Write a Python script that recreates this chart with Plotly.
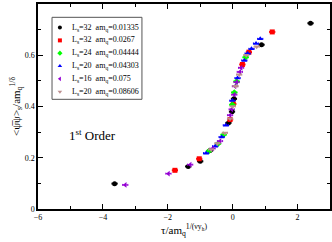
import plotly.graph_objects as go

labels = [
    "L<sub>s</sub>=32\u00a0 am<sub>q</sub>=0.01335",
    "L<sub>s</sub>=32\u00a0 am<sub>q</sub>=0.0267",
    "L<sub>s</sub>=24\u00a0 am<sub>q</sub>=0.04444",
    "L<sub>s</sub>=20\u00a0 am<sub>q</sub>=0.04303",
    "L<sub>s</sub>=16\u00a0 am<sub>q</sub>=0.075",
    "L<sub>s</sub>=20\u00a0 am<sub>q</sub>=0.08606",
]
colors = ["#000000", "#ff0000", "#00ff00", "#0000ff", "#9400d3", "#bc8f8f"]
symbols = ["circle", "square", "diamond", "triangle-up", "triangle-left", "triangle-down"]

x_black = [-3.64, -1.37, -1.00, -0.70, -0.13, -0.02, 0.04, 0.89, 2.40]
y_black = [0.099, 0.166, 0.186, 0.228, 0.336, 0.38, 0.43, 0.641, 0.725]

x_red = [-1.78, -1.03, -0.08, 0.02, 0.30, 0.50, 1.22]
y_red = [0.151, 0.196, 0.349, 0.41, 0.564, 0.612, 0.691]

x_green = [-0.73, -0.45, -0.28, -0.01, 0.05, 0.12, 0.40]
y_green = [0.226, 0.255, 0.29, 0.407, 0.455, 0.498, 0.592]

x_blue = [-0.82, -0.54, -0.34, -0.21, -0.01, 0.15, 0.36, 0.46, 0.58, 0.72, 0.85]
y_blue = [0.218, 0.245, 0.281, 0.327, 0.423, 0.511, 0.580, 0.607, 0.625, 0.646, 0.664]

x_violet = [-3.31, -1.98, -1.31, -0.62, -0.39, -0.08, -0.03, 0.05, 0.07, 0.12, 0.22, 0.26]
y_violet = [0.094, 0.138, 0.173, 0.236, 0.265, 0.366, 0.389, 0.446, 0.479, 0.495, 0.535, 0.551]

x_brown = [-0.66, -0.47, -0.24, -0.08, 0.00, 0.09, 0.20, 0.42, 0.74]
y_brown = [0.232, 0.256, 0.297, 0.352, 0.40, 0.479, 0.524, 0.60, 0.633]

xs = [x_black, x_red, x_green, x_blue, x_violet, x_brown]
ys = [y_black, y_red, y_green, y_blue, y_violet, y_brown]

serif = "Liberation Serif"
fig = go.Figure()
for lab, c, s, xv, yv in zip(labels, colors, symbols, xs, ys):
    fig.add_trace(go.Scatter(
        x=xv, y=yv, mode="markers", name=lab, showlegend=False,
        marker=dict(color=c, symbol=s, size=5, line=dict(width=0)),
        error_x=dict(type="constant", value=0.08, color=c, thickness=1, width=1),
    ))

# custom legend (paper-like overlay axes)
leg_x0, leg_x1, leg_y0, leg_y1 = 0.048, 0.356, 0.535, 0.935
step = 0.0625
top = 0.885
for i, (lab, c, s) in enumerate(zip(labels, colors, symbols)):
    yy = top - i * step
    fig.add_trace(go.Scatter(
        x=[0.075], y=[yy], xaxis="x2", yaxis="y2", mode="markers", showlegend=False,
        marker=dict(color=c, symbol=s, size=4, line=dict(width=0)), hoverinfo="skip",
    ))
    fig.add_annotation(x=0.11, y=yy, xref="paper", yref="paper", xanchor="left", yanchor="middle",
                       text=lab, showarrow=False, font=dict(family=serif, size=8, color="black"))
fig.add_shape(type="rect", xref="paper", yref="paper", x0=leg_x0, x1=leg_x1, y0=leg_y0, y1=leg_y1,
              line=dict(color="#555555", width=1), fillcolor="rgba(0,0,0,0)", layer="below")

axis_common = dict(
    showline=True, linecolor="black", linewidth=1.5, mirror="ticks",
    ticks="inside", ticklen=5, tickcolor="black", tickwidth=1,
    showgrid=False, zeroline=False, automargin=False,
    tickfont=dict(family=serif, size=8, color="black"),
)
fig.update_layout(
    xaxis=dict(range=[-6, 3], tickvals=[-6, -4, -2, 0, 2],
               minor=dict(ticks="inside", ticklen=3, dtick=1, tick0=0, tickcolor="black", showgrid=False),
               title=dict(text="τ/am<sub>q</sub><sup>1/(νy<sub>h</sub>)</sup>",
                          font=dict(family=serif, size=11, color="black"), standoff=0),
               **axis_common),
    yaxis=dict(range=[0, 0.8], tickvals=[0, 0.2, 0.4, 0.6, 0.8], ticktext=["0", "0.2", "0.4", "0.6", "0.8"],
               minor=dict(ticks="inside", ticklen=3, dtick=0.1, tick0=0, tickcolor="black", showgrid=False),
               title=dict(text="<ψ\u0305ψ><sub>s</sub>/am<sub>q</sub><sup>1/δ</sup>",
                          font=dict(family=serif, size=11, color="black"), standoff=2),
               **axis_common),
    xaxis2=dict(range=[0, 1], overlaying="x", visible=False, fixedrange=True),
    yaxis2=dict(range=[0, 1], overlaying="y", visible=False, fixedrange=True),
)

fig.add_annotation(x=0.1, y=0.36, xref="paper", yref="paper", xanchor="left", yanchor="middle",
                   text="1<sup>st</sup> Order", showarrow=False,
                   font=dict(family=serif, size=13, color="black"))

fig.update_layout(
    width=332, height=242,
    margin=dict(l=38, r=2, t=4, b=33),
    plot_bgcolor="white", paper_bgcolor="white",
    showlegend=False,
)

fig.write_html("out.html", config={"displayModeBar": False},
               post_script="document.body.style.margin='0';document.body.style.overflow='hidden';")
